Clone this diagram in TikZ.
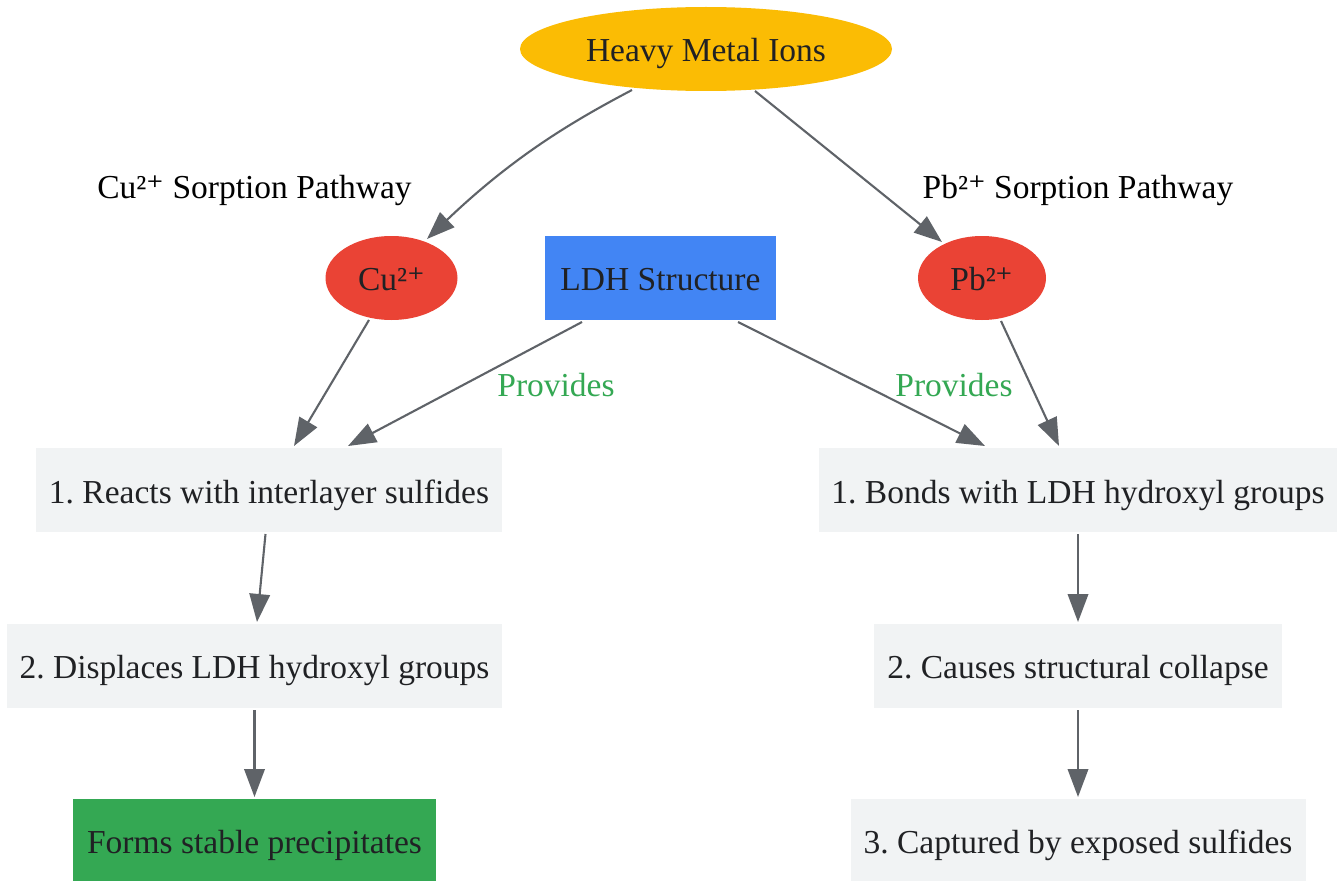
\documentclass[tikz,border=0pt]{standalone}
\usepackage{fontspec}
\setmainfont{Liberation Serif}
\newfontfamily\supfont{DejaVu Serif}
\usetikzlibrary{shapes.geometric,arrows.meta}
\definecolor{amberc}{HTML}{FBBC04}
\definecolor{redc}{HTML}{EA4335}
\definecolor{bluec}{HTML}{4285F4}
\definecolor{greenc}{HTML}{34A853}
\definecolor{greyc}{HTML}{F1F3F4}
\definecolor{textc}{HTML}{202124}
\definecolor{linec}{HTML}{5F6368}
\newcommand{\suptwo}{²{\supfont\fontsize{33.5}{38}\selectfont ⁺}}
\tikzset{
  base/.style={inner sep=0pt,outer sep=0pt,text=textc,font=\fontsize{33.5}{38}\selectfont\frenchspacing,minimum height=84pt,text height=25pt,text depth=0pt},
  oval/.style={base,ellipse,fill=#1},
  boxn/.style={base,rectangle,fill=#1},
  label/.style={inner sep=0pt,font=\fontsize{33.5}{38}\selectfont\frenchspacing,text height=23pt,text depth=1pt},
  conn/.style={draw=linec,line width=2.1pt,-{Triangle[length=28pt,width=20.5pt]}},
}
\begin{document}
\begin{tikzpicture}[x=1pt,y=-1pt]
\useasboundingbox (0,0) rectangle (1340,880);
\fill[white] (0,0) rectangle (1340,880);
\begin{scope}
\clip (0,0) rectangle (1340,880);
\node[oval=amberc,minimum width=372pt] (hm) at (706,49) {Heavy Metal Ions};
\node[oval=redc,minimum width=132pt] (cu) at (391.5,278) {Cu\suptwo};
\node[boxn=bluec,minimum width=231pt] (ldh) at (660.5,278) {LDH Structure};
\node[oval=redc,minimum width=128pt] (pb) at (982,278) {Pb\suptwo};
\node[boxn=greyc,minimum width=466pt,text height=27pt] (r1) at (269,490) {1. Reacts with interlayer sulfides};
\node[boxn=greyc,minimum width=495pt] (r2) at (254.5,666) {2. Displaces LDH hydroxyl groups};
\node[boxn=greenc,minimum width=363.5pt] (r3) at (254.5,841) {Forms stable precipitates};
\node[boxn=greyc,minimum width=518pt,text height=27pt] (l1) at (1078,490) {1. Bonds with LDH hydroxyl groups};
\node[boxn=greyc,minimum width=408.5pt] (l2) at (1078,666) {2. Causes structural collapse};
\node[boxn=greyc,minimum width=455pt] (l3) at (1078,841) {3. Captured by exposed sulfides};
\node[label,text=black] (tcu) at (254.5,187) {Cu\suptwo{} Sorption Pathway};
\node[label,text=black] (tpb) at (1078,187) {Pb\suptwo{} Sorption Pathway};
\node[label,text=greenc] (p1) at (556,385) {Provides};
\node[label,text=greenc] (p2) at (954,385) {Provides};
\end{scope}
\draw[conn] ([shift={(-74,41)}]hm.center) .. controls ([shift={(-131,71)}]hm.center) and ([shift={(-191,106)}]hm.center) .. ([shift={(35.5,-39)}]cu.center);
\draw[conn] ([shift={(49,42)}]hm.center) -- ([shift={(-40,-36)}]pb.center);
\draw[conn] ([shift={(-22.5,42)}]cu.center) -- ([shift={(25,-44)}]r1.center);
\draw[conn] ([shift={(-78.5,44)}]ldh.center) -- ([shift={(79,-44)}]r1.center);
\draw[conn] ([shift={(77.5,44)}]ldh.center) -- ([shift={(-93,-44)}]l1.center);
\draw[conn] ([shift={(19,43)}]pb.center) -- ([shift={(-19,-44)}]l1.center);
\draw[conn] ([shift={(-3.5,44)}]r1.center) -- ([shift={(2.5,-44)}]r2.center);
\draw[conn] ([shift={(0,44)}]r2.center) -- ([shift={(0,-44)}]r3.center);
\draw[conn] ([shift={(0,44)}]l1.center) -- ([shift={(0,-44)}]l2.center);
\draw[conn] ([shift={(0,44)}]l2.center) -- ([shift={(0,-44)}]l3.center);
\end{tikzpicture}
\end{document}
